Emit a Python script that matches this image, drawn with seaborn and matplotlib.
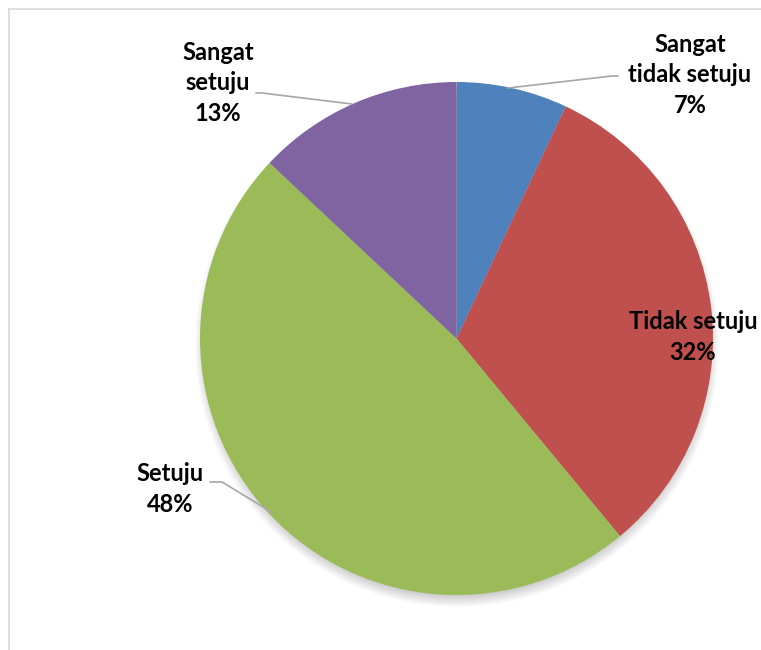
import numpy as np
import matplotlib
matplotlib.use("Agg")
import matplotlib.pyplot as plt
import seaborn as sns

categories = ["Sangat tidak setuju", "Tidak setuju", "Setuju", "Sangat setuju"]
label_text = ["Sangat\ntidak setuju", "Tidak setuju", "Setuju", "Sangat\nsetuju"]
percentages = [7, 32, 48, 13]
colors = ["#4F81BD", "#C0504D", "#9BBB59", "#8064A2"]

sns.set_theme(style="white")
plt.rcParams["font.family"] = ["Lato", "DejaVu Sans"]

W, H = 761, 650
fig = plt.figure(figsize=(W / 100, H / 100), dpi=100)
ax = fig.add_axes([0, 0, 1, 1])
ax.set_xlim(0, W)
ax.set_ylim(0, H)
ax.set_aspect("equal")
ax.axis("off")

cx, cy, r = 456.5, H - 338.5, 256.5

# soft drop shadow under the pie
yy, xx = np.mgrid[0:H, 0:W]
d = np.hypot(xx - cx, (H - yy) - (cy - 6))
shadow_alpha = np.clip((r + 6 - d) / 14.0, 0, 1) * 0.35
shadow = np.zeros((H, W, 4))
shadow[..., :3] = 0.35
shadow[..., 3] = shadow_alpha
ax.imshow(shadow, extent=(0, W, 0, H), origin="upper", zorder=0)

ax.pie(percentages, colors=colors, startangle=90, counterclock=False,
       center=(cx, cy), radius=r, frame=True,
       wedgeprops=dict(linewidth=0, zorder=1))
ax.set_xlim(0, W)
ax.set_ylim(0, H)
ax.axis("off")

# chart frame
ax.plot([9, 9], [0, H - 9], color="#D9D9D9", lw=1.2, zorder=5)
ax.plot([9, W], [H - 9, H - 9], color="#D9D9D9", lw=1.2, zorder=5)

fs = 17
lab_pos = [(690, 75), (693, 337), (170, 489), (218, 83)]
for name, pct, (lx, ly) in zip(label_text, percentages, lab_pos):
    ax.text(lx, H - ly, f"{name}\n{pct}%", ha="center", va="center",
            fontsize=fs, fontweight="bold", color="black",
            linespacing=1.38, zorder=6)

# leader lines
leaders = [
    [(508, 88), (612, 76), (618, 76)],
    [(210, 482), (222, 482), (273, 513)],
    [(256, 93), (262, 93), (352, 104)],
]
for pts in leaders:
    xs = [p[0] for p in pts]
    ys = [H - p[1] for p in pts]
    ax.plot(xs, ys, color="#A6A6A6", lw=1.2, zorder=4)

fig.savefig("out.png", dpi=100)
